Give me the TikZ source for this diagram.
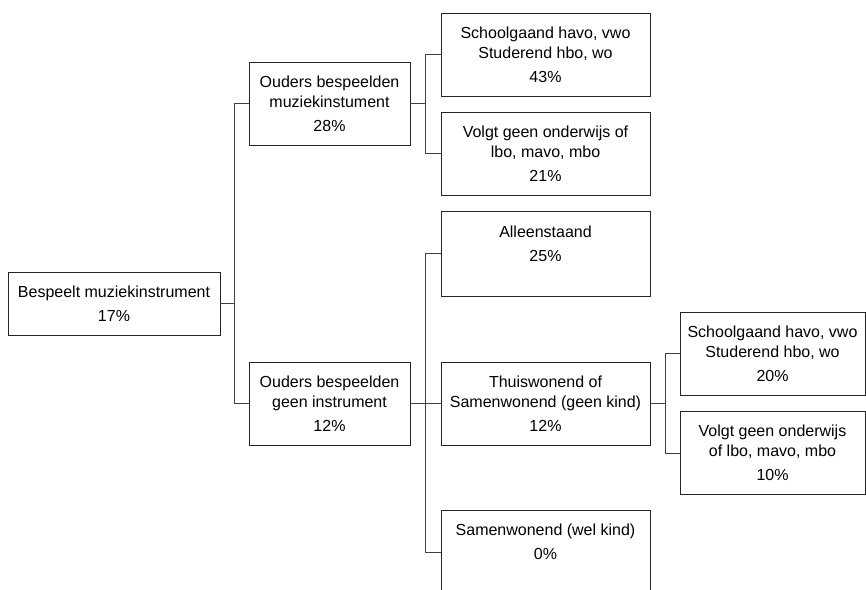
\documentclass[tikz,border=0pt]{standalone}
\usepackage{fontspec}
\setmainfont{Liberation Sans}
\usepackage{tikz}
\usetikzlibrary{calc}

\begin{document}
\begin{tikzpicture}[x=1pt,y=-1pt,
  vak/.style={draw=black!85,line width=0.8pt,align=center,inner sep=0pt,
    font=\fontsize{16}{20}\selectfont,minimum height=83pt},
  lijn/.style={draw=black!75,line width=0.8pt}]
\useasboundingbox (0,0) rectangle (866,589);
\node[vak,minimum width=212pt,minimum height=63pt] (root) at (114,303.5) {Bespeelt muziekinstrument\\[4pt]17\%};
\node[vak,minimum width=161pt] (ouders1) at (329.5,103.5) {Ouders bespeelden\\muziekinstument\\[4pt]28\%};
\node[vak,minimum width=161pt] (ouders2) at (329.5,403.5) {Ouders bespeelden\\geen instrument\\[4pt]12\%};
\node[vak,minimum width=209pt] (a1) at (545.5,54.5) {Schoolgaand havo, vwo\\Studerend hbo, wo\\[4pt]43\%};
\node[vak,minimum width=209pt] (a2) at (545.5,153.5) {Volgt geen onderwijs of\\lbo, mavo, mbo\\[4pt]21\%};
\node[vak,minimum width=209pt,minimum height=85pt] (b1) at (545.5,253.5) {Alleenstaand\\[4pt]25\%\\~};
\node[vak,minimum width=209pt] (b2) at (545.5,403.5) {Thuiswonend of\\Samenwonend (geen kind)\\[4pt]12\%};
\node[vak,minimum width=209pt] (b3) at (545.5,552) {Samenwonend (wel kind)\\[4pt]0\%\\~};
\node[vak,minimum width=185pt] (c1) at (772.5,353.5) {Schoolgaand havo, vwo\\Studerend hbo, wo\\[4pt]20\%};
\node[vak,minimum width=185pt] (c2) at (772.5,453) {Volgt geen onderwijs\\of lbo, mavo, mbo\\[4pt]10\%};
\coordinate (s1) at (234,0);
\coordinate (s2) at (425,0);
\coordinate (s3) at (665,0);
\draw[lijn] (root.east) -- (root.east -| s1);
\draw[lijn] (ouders1.west) -- (ouders1.west -| s1) -- (ouders2.west -| s1) -- (ouders2.west);
\draw[lijn] (ouders1.east) -- (ouders1.east -| s2);
\draw[lijn] (a1.west) -- (a1.west -| s2) -- (a2.west -| s2) -- (a2.west);
\draw[lijn] (ouders2.east) -- (b2.west);
\draw[lijn] (b1.west) -- (b1.west -| s2) -- (b3.west -| s2) -- (b3.west);
\draw[lijn] (b2.east) -- (b2.east -| s3);
\draw[lijn] (c1.west) -- (c1.west -| s3) -- (c2.west -| s3) -- (c2.west);
\end{tikzpicture}
\end{document}
